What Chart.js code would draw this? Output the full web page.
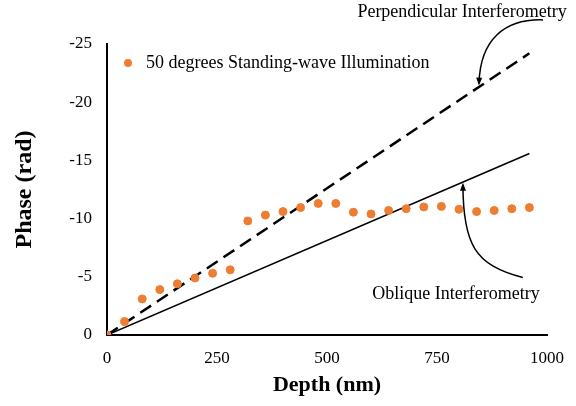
<!DOCTYPE html>
<html>
<head>
<meta charset="utf-8">
<script src="https://cdn.jsdelivr.net/npm/chart.js@4/dist/chart.umd.min.js"></script>
<style>
  html, body { margin: 0; padding: 0; background: #fff; }
  #wrap { width: 576px; height: 406px; }
</style>
</head>
<body>
<div id="wrap"><canvas id="chart"></canvas></div>
<script>
// depth (nm) and phase (rad)
const depths = [0, 40, 80, 120, 160, 200, 240, 280, 320, 360, 400, 440, 480,
  520, 560, 600, 640, 680, 720, 760, 800, 840, 880, 920, 960];
const standingWave = [0, -1.15, -3.1, -3.9, -4.4, -4.9, -5.3, -5.6, -9.8, -10.3,
  -10.6, -10.95, -11.3, -11.3, -10.55, -10.4, -10.7, -10.85, -11.0, -11.05,
  -10.8, -10.6, -10.7, -10.85, -10.95];
const lineDepths = [0, 960];
const perpendicular = [0, -24.2];
const oblique = [0, -15.6];

const serif = "'Liberation Serif', 'Times New Roman', serif";
const orange = "#ED7D31";

// annotation arrows, in data units: start, control1, control2, end
const perpArrow = [[991, -27.07], [904, -27.16], [848, -25.4], [845.5, -21.6]];
const obliqueArrow = [[945, -4.94], [836, -6.0], [809, -7.8], [809, -12.9]];

const annotate = {
  id: "annotate",
  afterDraw(chart) {
    const { ctx, scales: { x, y } } = chart;
    const px = (p) => [x.getPixelForValue(p[0]), y.getPixelForValue(p[1])];
    ctx.save();

    // legend
    const [lx, ly] = px([47.7, -23.36]);
    ctx.fillStyle = orange;
    ctx.beginPath();
    ctx.arc(lx, ly, 4, 0, Math.PI * 2);
    ctx.fill();
    ctx.fillStyle = "#000";
    ctx.font = "18px " + serif;
    ctx.textBaseline = "middle";
    ctx.textAlign = "left";
    ctx.fillText("50 degrees Standing-wave Illumination", lx + 18, ly);

    ctx.textAlign = "center";
    let [tx, ty] = px([807, -27.7]);
    ctx.fillText("Perpendicular Interferometry", tx, ty);
    [tx, ty] = px([793, -3.5]);
    ctx.fillText("Oblique Interferometry", tx, ty);

    const arrow = (pts) => {
      const p = pts.map(px);
      ctx.strokeStyle = "#000";
      ctx.lineWidth = 1.5;
      ctx.beginPath();
      ctx.moveTo(p[0][0], p[0][1]);
      ctx.bezierCurveTo(p[1][0], p[1][1], p[2][0], p[2][1], p[3][0], p[3][1]);
      ctx.stroke();
      const ang = Math.atan2(p[3][1] - p[2][1], p[3][0] - p[2][0]);
      ctx.fillStyle = "#000";
      ctx.beginPath();
      ctx.moveTo(p[3][0] + 2 * Math.cos(ang), p[3][1] + 2 * Math.sin(ang));
      ctx.lineTo(p[3][0] - 6 * Math.cos(ang) + 3 * Math.sin(ang), p[3][1] - 6 * Math.sin(ang) - 3 * Math.cos(ang));
      ctx.lineTo(p[3][0] - 6 * Math.cos(ang) - 3 * Math.sin(ang), p[3][1] - 6 * Math.sin(ang) + 3 * Math.cos(ang));
      ctx.closePath();
      ctx.fill();
    };
    arrow(perpArrow);
    arrow(obliqueArrow);
    ctx.restore();
  }
};

new Chart(document.getElementById("chart"), {
  type: "scatter",
  data: {
    datasets: [
      {
        label: "50 degrees Standing-wave Illumination",
        data: depths.map((d, i) => ({ x: d, y: standingWave[i] })),
        backgroundColor: orange,
        borderColor: orange,
        pointRadius: 4,
        order: 0
      },
      {
        label: "Perpendicular Interferometry",
        data: lineDepths.map((d, i) => ({ x: d, y: perpendicular[i] })),
        showLine: true,
        borderColor: "#000",
        borderWidth: 2.5,
        borderDash: [13, 7],
        pointRadius: 0,
        order: 1
      },
      {
        label: "Oblique Interferometry",
        data: lineDepths.map((d, i) => ({ x: d, y: oblique[i] })),
        showLine: true,
        borderColor: "#000",
        borderWidth: 1.6,
        pointRadius: 0,
        order: 2
      }
    ]
  },
  options: {
    responsive: true,
    maintainAspectRatio: false,
    animation: false,
    layout: { padding: { top: 44, right: 29, left: 0, bottom: 0 } },
    plugins: {
      legend: { display: false },
      tooltip: { enabled: false }
    },
    scales: {
      x: {
        type: "linear",
        min: 0,
        max: 1000,
        grid: { display: false },
        border: { display: true, color: "#000", width: 2 },
        ticks: {
          stepSize: 250,
          color: "#000",
          padding: 5,
          font: { family: serif, size: 17 },
          callback: (v) => String(v)
        },
        title: {
          display: true,
          text: "Depth (nm)",
          color: "#000",
          font: { family: serif, size: 22, weight: "bold" },
          padding: { top: 0, bottom: 7 }
        },
        afterFit(scale) { scale.height = 71; }
      },
      y: {
        type: "linear",
        min: -25,
        max: 0,
        reverse: true,
        grid: { display: false },
        border: { display: true, color: "#000", width: 2 },
        ticks: {
          stepSize: 5,
          color: "#000",
          padding: 7,
          font: { family: serif, size: 17 },
          callback: (v) => String(v)
        },
        title: {
          display: true,
          text: "Phase (rad)",
          color: "#000",
          font: { family: serif, size: 24, weight: "bold" },
          padding: { top: 10, bottom: 0 }
        },
        afterFit(scale) { scale.width = 107; }
      }
    }
  },
  plugins: [annotate]
});
</script>
</body>
</html>
